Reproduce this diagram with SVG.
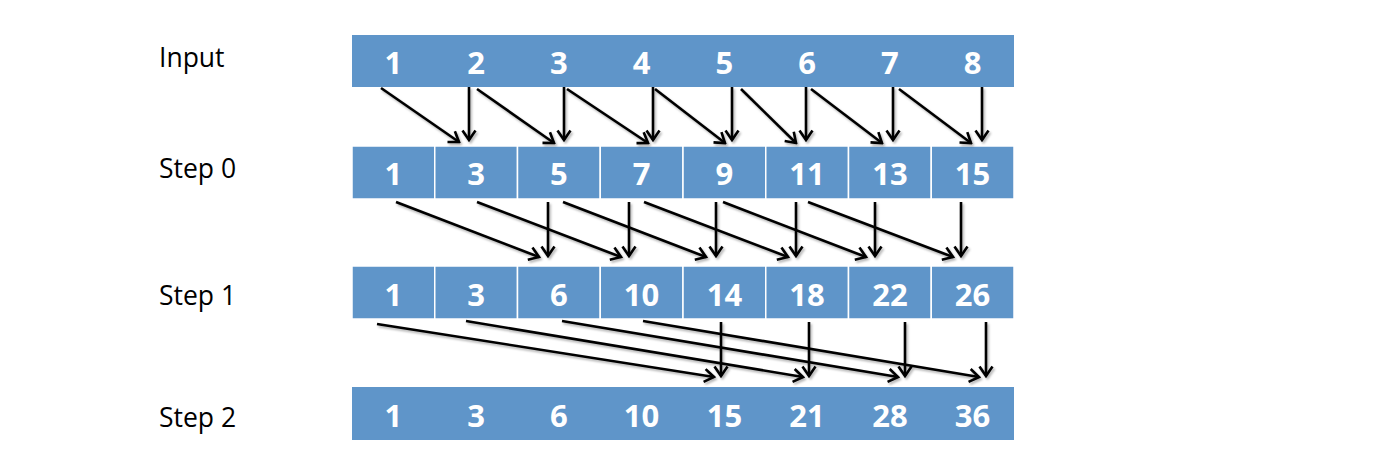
<svg xmlns="http://www.w3.org/2000/svg" width="1391" height="460" viewBox="0 0 1391 460">
<defs>
<style>
.bar{fill:#5F95C9;}
.cell{fill:#5F95C9;stroke:#ffffff;stroke-width:1.5;}
.num{font-family:"Open Sans","Liberation Sans",sans-serif;font-weight:bold;font-size:31px;fill:#ffffff;text-anchor:middle;}
.lbl{font-family:"Open Sans","Liberation Sans",sans-serif;font-size:26.5px;fill:#000000;}
.arr{stroke:#000000;stroke-width:2.6;fill:none;marker-end:url(#ah);}
</style>
<marker id="ah" viewBox="-12 -8 14 16" refX="0" refY="0" markerWidth="14" markerHeight="16" markerUnits="userSpaceOnUse" orient="auto">
<path d="M-9.5,-6.5 L0,0 L-9.5,6.5" fill="none" stroke="#000000" stroke-width="2.6"/>
</marker>
<filter id="sh" x="-10%" y="-10%" width="130%" height="130%">
<feDropShadow dx="1.5" dy="2" stdDeviation="1.2" flood-color="#000000" flood-opacity="0.3"/>
</filter>
</defs>
<rect width="1391" height="460" fill="#ffffff"/>

<g id="labels">
<text class="lbl" x="159" y="67">Input</text>
<text class="lbl" x="159" y="178">Step 0</text>
<text class="lbl" x="159" y="305">Step 1</text>
<text class="lbl" x="159" y="427">Step 2</text>
</g>

<g id="input">
<rect class="bar" x="352" y="35" width="662" height="52"/>
<text class="num" x="393.4" y="74">1</text>
<text class="num" x="476.1" y="74">2</text>
<text class="num" x="558.9" y="74">3</text>
<text class="num" x="641.6" y="74">4</text>
<text class="num" x="724.4" y="74">5</text>
<text class="num" x="807.1" y="74">6</text>
<text class="num" x="889.9" y="74">7</text>
<text class="num" x="972.6" y="74">8</text>
</g>

<g id="step0">
<rect class="cell" x="352" y="146" width="82.75" height="53"/>
<rect class="cell" x="434.75" y="146" width="82.75" height="53"/>
<rect class="cell" x="517.5" y="146" width="82.75" height="53"/>
<rect class="cell" x="600.25" y="146" width="82.75" height="53"/>
<rect class="cell" x="683" y="146" width="82.75" height="53"/>
<rect class="cell" x="765.75" y="146" width="82.75" height="53"/>
<rect class="cell" x="848.5" y="146" width="82.75" height="53"/>
<rect class="cell" x="931.25" y="146" width="82.75" height="53"/>
<text class="num" x="393.4" y="185">1</text>
<text class="num" x="476.1" y="185">3</text>
<text class="num" x="558.9" y="185">5</text>
<text class="num" x="641.6" y="185">7</text>
<text class="num" x="724.4" y="185">9</text>
<text class="num" x="807.1" y="185">11</text>
<text class="num" x="889.9" y="185">13</text>
<text class="num" x="972.6" y="185">15</text>
</g>

<g id="step1">
<rect class="cell" x="352" y="266" width="82.75" height="53"/>
<rect class="cell" x="434.75" y="266" width="82.75" height="53"/>
<rect class="cell" x="517.5" y="266" width="82.75" height="53"/>
<rect class="cell" x="600.25" y="266" width="82.75" height="53"/>
<rect class="cell" x="683" y="266" width="82.75" height="53"/>
<rect class="cell" x="765.75" y="266" width="82.75" height="53"/>
<rect class="cell" x="848.5" y="266" width="82.75" height="53"/>
<rect class="cell" x="931.25" y="266" width="82.75" height="53"/>
<text class="num" x="393.4" y="306">1</text>
<text class="num" x="476.1" y="306">3</text>
<text class="num" x="558.9" y="306">6</text>
<text class="num" x="641.6" y="306">10</text>
<text class="num" x="724.4" y="306">14</text>
<text class="num" x="807.1" y="306">18</text>
<text class="num" x="889.9" y="306">22</text>
<text class="num" x="972.6" y="306">26</text>
</g>

<g id="step2">
<rect class="bar" x="352" y="387" width="662" height="53"/>
<text class="num" x="393.4" y="427">1</text>
<text class="num" x="476.1" y="427">3</text>
<text class="num" x="558.9" y="427">6</text>
<text class="num" x="641.6" y="427">10</text>
<text class="num" x="724.4" y="427">15</text>
<text class="num" x="807.1" y="427">21</text>
<text class="num" x="889.9" y="427">28</text>
<text class="num" x="972.6" y="427">36</text>
</g>

<g id="connectors" filter="url(#sh)">
<!-- input to step 0: verticals -->
<line class="arr" x1="469" y1="87" x2="469" y2="140"/>
<line class="arr" x1="564" y1="87" x2="564" y2="140"/>
<line class="arr" x1="653" y1="87" x2="653" y2="140"/>
<line class="arr" x1="732" y1="87" x2="732" y2="140"/>
<line class="arr" x1="806" y1="87" x2="806" y2="140"/>
<line class="arr" x1="893" y1="87" x2="893" y2="140"/>
<line class="arr" x1="982" y1="87" x2="982" y2="140"/>
<!-- input to step 0: diagonals -->
<line class="arr" x1="381" y1="88" x2="459" y2="142"/>
<line class="arr" x1="477" y1="89" x2="554" y2="143"/>
<line class="arr" x1="567" y1="89" x2="648" y2="143"/>
<line class="arr" x1="655" y1="89" x2="725" y2="143"/>
<line class="arr" x1="741" y1="89" x2="796" y2="143"/>
<line class="arr" x1="811" y1="89" x2="882" y2="143"/>
<line class="arr" x1="899" y1="89" x2="971" y2="143"/>

<!-- step 0 to step 1: verticals -->
<line class="arr" x1="548" y1="202" x2="548" y2="256"/>
<line class="arr" x1="629" y1="202" x2="629" y2="256"/>
<line class="arr" x1="716" y1="202" x2="716" y2="256"/>
<line class="arr" x1="796" y1="202" x2="796" y2="256"/>
<line class="arr" x1="875" y1="202" x2="875" y2="256"/>
<line class="arr" x1="961" y1="202" x2="961" y2="256"/>
<!-- step 0 to step 1: diagonals -->
<line class="arr" x1="396" y1="202" x2="539" y2="257"/>
<line class="arr" x1="477" y1="202" x2="621" y2="257"/>
<line class="arr" x1="563" y1="202" x2="706" y2="257"/>
<line class="arr" x1="644" y1="202" x2="788" y2="257"/>
<line class="arr" x1="723" y1="202" x2="866" y2="257"/>
<line class="arr" x1="808" y1="202" x2="953" y2="257"/>

<!-- step 1 to step 2: verticals -->
<line class="arr" x1="721" y1="322" x2="721" y2="376"/>
<line class="arr" x1="809" y1="322" x2="809" y2="376"/>
<line class="arr" x1="905" y1="322" x2="905" y2="376"/>
<line class="arr" x1="986" y1="322" x2="986" y2="376"/>
<!-- step 1 to step 2: diagonals -->
<line class="arr" x1="377" y1="324" x2="714" y2="377"/>
<line class="arr" x1="466" y1="321" x2="803" y2="377"/>
<line class="arr" x1="562" y1="321" x2="898" y2="377"/>
<line class="arr" x1="643" y1="321" x2="979" y2="377"/>
</g>
</svg>
